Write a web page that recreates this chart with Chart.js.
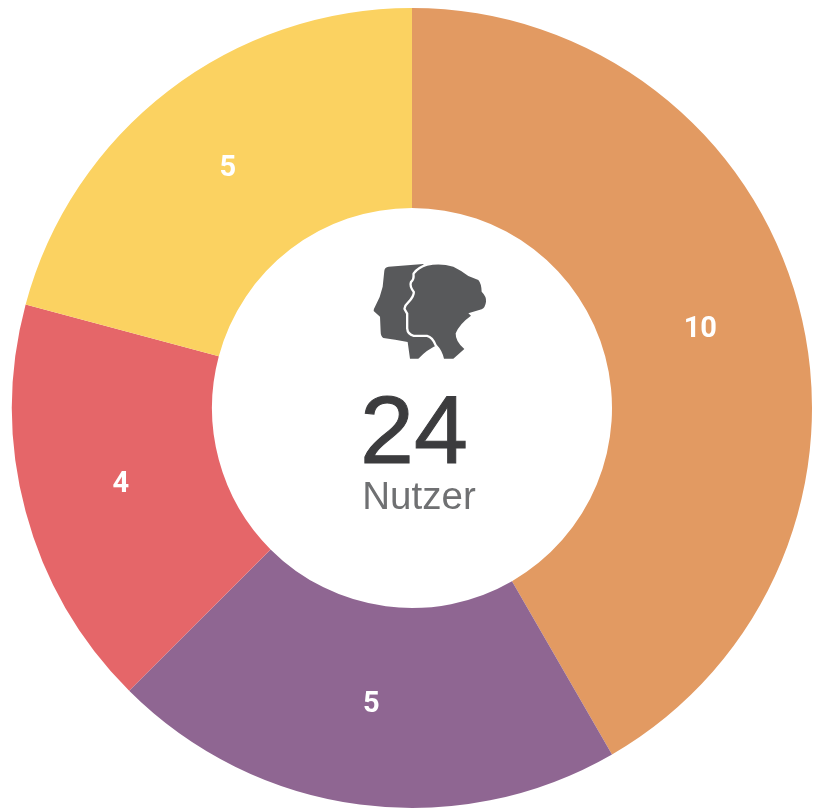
<!DOCTYPE html>
<html><head><meta charset="utf-8">
<style>html,body{margin:0;padding:0;background:#fff}#w{position:absolute;left:0;top:0;width:821px;height:809px}</style>
<script src="https://cdn.jsdelivr.net/npm/chart.js@4"></script></head>
<body><div id="w"><canvas id="c" width="821" height="809"></canvas></div>
<script>
const categories = ["A","B","C","D"];
const values = [10,5,4,5];
const colors = ["#E29A62","#8F6692","#E56669","#FBD261"];
const totalLabel = "24";
const unitLabel = "Nutzer";
const iconColor = "#58595B";
const backHead = "M133 62 Q134 52 146 50 L250 42 L300 200 L292 285 Q262 298 235 326 L210 326 L203 276 Q165 268 130 264 Q122 258 122 245 L120 200 L101 183 Q100 178 105 170 Q122 140 128 110 Z";
const frontHead = "M224 72 Q236 55 262 47 Q300 38 340 50 Q365 62 385 78 L415 90 Q424 100 425 125 Q440 140 438 155 Q436 172 425 178 L385 190 L393 197 Q358 222 347 250 Q346 275 373 297 L340 326 L312 326 Q306 300 290 284 Q280 258 262 254 L222 254 Q206 250 205 235 L205 190 L197 176 Q198 168 207 160 Q226 140 225 125 Q212 108 216 98 Q226 90 224 72 Z";
const labelsPlugin = {
  id:"labelsPlugin",
  afterDatasetsDraw(chart){
    const {ctx}=chart, meta=chart.getDatasetMeta(0);
    ctx.save();
    ctx.fillStyle="#fff";ctx.font="bold 29px 'Roboto'";ctx.textAlign="center";ctx.textBaseline="middle";
    meta.data.forEach((a,i)=>{
      const p=a.getCenterPoint();
      ctx.fillText(String(values[i]),p.x-1.5,p.y-1);
    });
    const cx=meta.data[0].x, cy=meta.data[0].y;
    ctx.textBaseline="alphabetic";
    ctx.fillStyle="#3C3C3E";ctx.strokeStyle="#3C3C3E";ctx.lineWidth=1;ctx.font="97px 'Liberation Sans'";
    ctx.fillText(totalLabel,cx+2,cy+55);
    ctx.strokeText(totalLabel,cx+2,cy+55);
    ctx.fillStyle="#6F7072";ctx.font="38.5px 'Liberation Sans'";
    ctx.fillText(unitLabel,cx+7,cy+101);
    ctx.translate(cx-72,cy-158);ctx.scale(1/3,1/3);
    ctx.fillStyle=iconColor;
    ctx.fill(new Path2D(backHead));
    const f=new Path2D(frontHead);
    ctx.strokeStyle="#fff";ctx.lineWidth=14;ctx.lineJoin="round";
    ctx.stroke(f);
    ctx.fill(f);
    ctx.restore();
  }
};
new Chart(document.getElementById("c"),{
  type:"doughnut",
  data:{labels:categories,datasets:[{data:values,backgroundColor:colors,borderWidth:0,hoverOffset:0}]},
  options:{responsive:false,animation:false,cutout:"50%",rotation:0,
    layout:{padding:{left:12,right:9,top:8,bottom:1}},
    plugins:{legend:{display:false},tooltip:{enabled:false}}},
  plugins:[labelsPlugin]
});
</script></body></html>
